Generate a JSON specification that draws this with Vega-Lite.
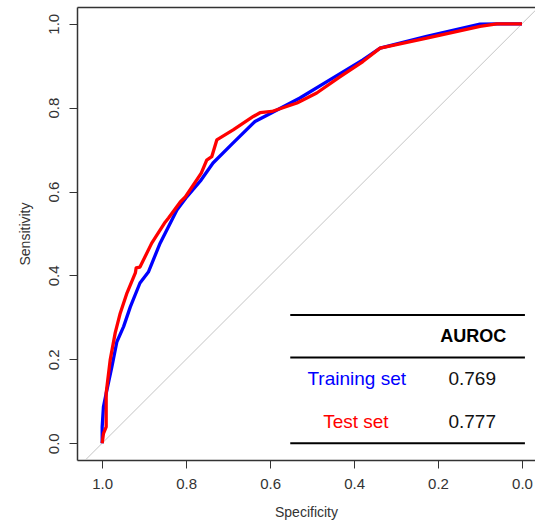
{
  "$schema": "https://vega.github.io/schema/vega-lite/v6.json",
  "width": 458,
  "height": 453,
  "autosize": {"type": "none"},
  "padding": {"left": 77, "top": 7, "right": 0, "bottom": 61},
  "background": "white",
  "config": {
    "view": {"stroke": null},
    "font": "Liberation Sans",
    "axis": {
      "grid": false,
      "labelFont": "Liberation Sans",
      "labelFontSize": 15,
      "labelColor": "#333333",
      "titleFont": "Liberation Sans",
      "titleFontSize": 14,
      "titleFontWeight": "normal",
      "titleColor": "#333333",
      "tickColor": "#333333",
      "tickSize": 8,
      "domainColor": "#333333",
      "domainWidth": 1.5
    }
  },
  "datasets": {
    "train": [
      {"spec": 1.0, "sens": 0.0},
      {"spec": 1.0, "sens": 0.007},
      {"spec": 1.0, "sens": 0.039},
      {"spec": 0.997, "sens": 0.087},
      {"spec": 0.989, "sens": 0.126},
      {"spec": 0.977, "sens": 0.182},
      {"spec": 0.965, "sens": 0.242},
      {"spec": 0.949, "sens": 0.278},
      {"spec": 0.933, "sens": 0.325},
      {"spec": 0.91, "sens": 0.382},
      {"spec": 0.89, "sens": 0.408},
      {"spec": 0.862, "sens": 0.477},
      {"spec": 0.822, "sens": 0.556},
      {"spec": 0.798, "sens": 0.588},
      {"spec": 0.764, "sens": 0.628},
      {"spec": 0.736, "sens": 0.668},
      {"spec": 0.688, "sens": 0.716},
      {"spec": 0.636, "sens": 0.767},
      {"spec": 0.596, "sens": 0.788},
      {"spec": 0.529, "sens": 0.823},
      {"spec": 0.45, "sens": 0.871},
      {"spec": 0.379, "sens": 0.914},
      {"spec": 0.338, "sens": 0.942},
      {"spec": 0.227, "sens": 0.97},
      {"spec": 0.1, "sens": 0.999},
      {"spec": 0.052, "sens": 1.0},
      {"spec": 0.0, "sens": 1.0}
    ],
    "test": [
      {"spec": 1.0, "sens": 0.0},
      {"spec": 0.997, "sens": 0.023},
      {"spec": 0.9905, "sens": 0.039},
      {"spec": 0.9905, "sens": 0.119},
      {"spec": 0.981, "sens": 0.198},
      {"spec": 0.969, "sens": 0.263},
      {"spec": 0.957, "sens": 0.31},
      {"spec": 0.941, "sens": 0.358},
      {"spec": 0.921, "sens": 0.406},
      {"spec": 0.919, "sens": 0.418},
      {"spec": 0.91, "sens": 0.42},
      {"spec": 0.882, "sens": 0.477},
      {"spec": 0.85, "sens": 0.527},
      {"spec": 0.842, "sens": 0.537},
      {"spec": 0.814, "sens": 0.575},
      {"spec": 0.802, "sens": 0.587},
      {"spec": 0.764, "sens": 0.644},
      {"spec": 0.751, "sens": 0.675},
      {"spec": 0.739, "sens": 0.683},
      {"spec": 0.727, "sens": 0.723},
      {"spec": 0.688, "sens": 0.747},
      {"spec": 0.64, "sens": 0.779},
      {"spec": 0.624, "sens": 0.788},
      {"spec": 0.596, "sens": 0.791},
      {"spec": 0.536, "sens": 0.811},
      {"spec": 0.489, "sens": 0.835},
      {"spec": 0.433, "sens": 0.874},
      {"spec": 0.379, "sens": 0.91},
      {"spec": 0.338, "sens": 0.942},
      {"spec": 0.227, "sens": 0.966},
      {"spec": 0.1, "sens": 0.994},
      {"spec": 0.06, "sens": 1.0},
      {"spec": 0.0, "sens": 1.0}
    ],
    "diag": [
      {"spec": 1.2, "sens": -0.2},
      {"spec": -0.2, "sens": 1.2}
    ],
    "header": [{"label": "AUROC"}],
    "trainRow": [{"set": "Training set", "auroc": "0.769"}],
    "testRow": [{"set": "Test set", "auroc": "0.777"}],
    "line": [{"k": 1}]
  },
  "resolve": {"axis": {"x": "independent", "y": "independent"}},
  "layer": [
    {
      "data": {"name": "diag"},
      "mark": {"type": "line", "color": "#c4c4c4", "strokeWidth": 1, "clip": true},
      "encoding": {
        "x": {"field": "spec", "type": "quantitative",
          "scale": {"domain": [-0.031, 1.06], "reverse": true, "nice": false, "zero": false},
          "axis": {"orient": "top", "labels": false, "ticks": false, "title": null, "domain": true}},
        "y": {"field": "sens", "type": "quantitative",
          "scale": {"domain": [-0.04, 1.04], "nice": false, "zero": false},
          "axis": null},
        "order": {"value": null}
      }
    },
    {
      "data": {"name": "train"},
      "mark": {"type": "line", "color": "#0000ff", "strokeWidth": 3.3, "strokeJoin": "round"},
      "encoding": {
        "x": {"field": "spec", "type": "quantitative",
          "axis": {"orient": "bottom", "values": [0, 0.2, 0.4, 0.6, 0.8, 1.0], "format": ".1f",
            "title": "Specificity", "labelPadding": 8, "titlePadding": 14}},
        "y": {"field": "sens", "type": "quantitative",
          "axis": {"orient": "left", "values": [0, 0.2, 0.4, 0.6, 0.8, 1.0], "format": ".1f",
            "labelAngle": -90, "labelAlign": "center", "labelBaseline": "alphabetic", "labelPadding": 11,
            "title": "Sensitivity", "titlePadding": 14}},
        "order": {"value": null}
      }
    },
    {
      "data": {"name": "test"},
      "mark": {"type": "line", "color": "#ff0000", "strokeWidth": 3.3, "strokeJoin": "round"},
      "encoding": {
        "x": {"field": "spec", "type": "quantitative", "axis": null},
        "y": {"field": "sens", "type": "quantitative", "axis": null},
        "order": {"value": null}
      }
    },
    {
      "data": {"name": "line"},
      "mark": {"type": "rule", "color": "black", "strokeWidth": 2},
      "encoding": {
        "x": {"datum": 0.552, "type": "quantitative", "axis": null},
        "x2": {"datum": -0.007},
        "y": {"datum": 0.3055, "type": "quantitative", "axis": null}
      }
    },
    {
      "data": {"name": "line"},
      "mark": {"type": "rule", "color": "black", "strokeWidth": 2},
      "encoding": {
        "x": {"datum": 0.552, "type": "quantitative", "axis": null},
        "x2": {"datum": -0.007},
        "y": {"datum": 0.2045, "type": "quantitative", "axis": null}
      }
    },
    {
      "data": {"name": "line"},
      "mark": {"type": "rule", "color": "black", "strokeWidth": 2},
      "encoding": {
        "x": {"datum": 0.552, "type": "quantitative", "axis": null},
        "x2": {"datum": -0.007},
        "y": {"datum": 0.0, "type": "quantitative", "axis": null}
      }
    },
    {
      "data": {"name": "header"},
      "mark": {"type": "text", "fontSize": 18, "fontWeight": "bold", "color": "black", "align": "center", "baseline": "middle"},
      "encoding": {
        "x": {"datum": 0.116, "type": "quantitative", "axis": null},
        "y": {"datum": 0.2537, "type": "quantitative", "axis": null},
        "text": {"field": "label"}
      }
    },
    {
      "data": {"name": "trainRow"},
      "mark": {"type": "text", "fontSize": 19, "color": "#0000ff", "align": "center", "baseline": "middle"},
      "encoding": {
        "x": {"datum": 0.3936, "type": "quantitative", "axis": null},
        "y": {"datum": 0.1527, "type": "quantitative", "axis": null},
        "text": {"field": "set"}
      }
    },
    {
      "data": {"name": "trainRow"},
      "mark": {"type": "text", "fontSize": 19, "color": "#111111", "align": "center", "baseline": "middle"},
      "encoding": {
        "x": {"datum": 0.1186, "type": "quantitative", "axis": null},
        "y": {"datum": 0.1527, "type": "quantitative", "axis": null},
        "text": {"field": "auroc"}
      }
    },
    {
      "data": {"name": "testRow"},
      "mark": {"type": "text", "fontSize": 19, "color": "#ff0000", "align": "center", "baseline": "middle"},
      "encoding": {
        "x": {"datum": 0.3957, "type": "quantitative", "axis": null},
        "y": {"datum": 0.0508, "type": "quantitative", "axis": null},
        "text": {"field": "set"}
      }
    },
    {
      "data": {"name": "testRow"},
      "mark": {"type": "text", "fontSize": 19, "color": "#111111", "align": "center", "baseline": "middle"},
      "encoding": {
        "x": {"datum": 0.1186, "type": "quantitative", "axis": null},
        "y": {"datum": 0.0508, "type": "quantitative", "axis": null},
        "text": {"field": "auroc"}
      }
    }
  ]
}
